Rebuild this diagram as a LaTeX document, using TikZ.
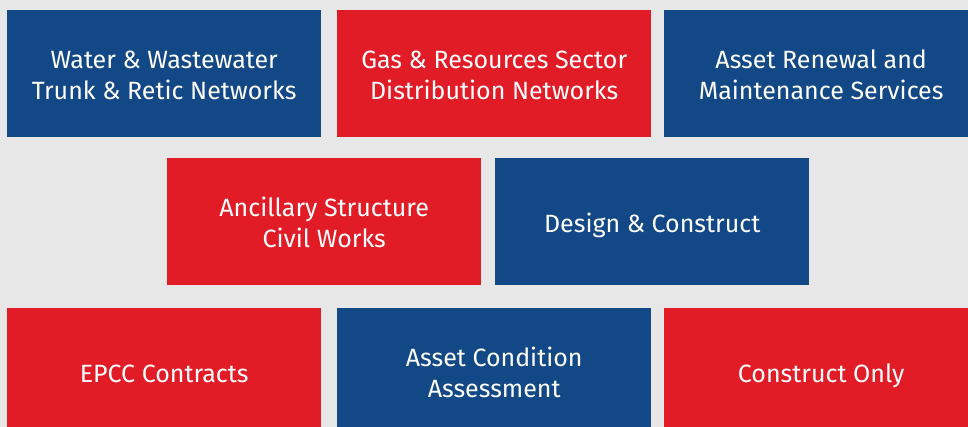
\documentclass[tikz,border=0pt]{standalone}
\usepackage{fontspec}
\setmainfont{Fira Sans}
\definecolor{svcblue}{HTML}{134886}
\definecolor{svcred}{HTML}{E21C26}
\definecolor{pagegray}{HTML}{E7E7E7}
\begin{document}
\begin{tikzpicture}[x=1pt,y=-1pt,
    svcbox/.style={rectangle, anchor=north west, minimum width=314pt, minimum height=126.7pt,
      inner sep=0pt, text=white, align=center, font=\fontsize{25}{31}\selectfont},
    oneline/.style={text height=24pt, text depth=1.4pt},
    twoline/.style={text height=55pt, text depth=3.4pt},
    bluebox/.style={svcbox, fill=svcblue},
    redbox/.style={svcbox, fill=svcred}]
    \clip (0,0) rectangle (968,427);
    \fill[pagegray] (0,0) rectangle (968,427);
    % top row
    \node[bluebox, twoline] (water) at (7,10) {Water \& Wastewater\\Trunk \& Retic Networks};
    \node[redbox, twoline] (gas) at (337,10) {Gas \& Resources Sector\\Distribution Networks};
    \node[bluebox, twoline] (renewal) at (664,10) {Asset Renewal and\\Maintenance Services};
    % middle row
    \node[redbox, twoline] (civil) at (167,158) {Ancillary Structure\\Civil Works};
    \node[bluebox, oneline] (design) at (495,158) {Design \& Construct};
    % bottom row
    \node[redbox, oneline] (epcc) at (7,308) {EPCC Contracts};
    \node[bluebox, twoline] (condition) at (337,308) {Asset Condition\\Assessment};
    \node[redbox, oneline] (construct) at (664,308) {Construct Only};
\end{tikzpicture}
\end{document}
